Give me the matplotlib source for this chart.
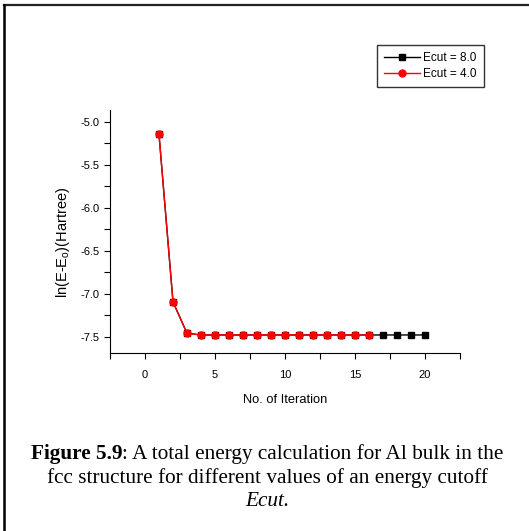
import matplotlib
matplotlib.use("Agg")
import matplotlib.pyplot as plt
from matplotlib.lines import Line2D
from matplotlib.ticker import MultipleLocator

iter_8 = list(range(1, 21))
energy_8 = [-5.144, -7.095, -7.46, -7.48, -7.48, -7.48, -7.48, -7.48, -7.48, -7.48,
            -7.48, -7.48, -7.48, -7.48, -7.48, -7.48, -7.48, -7.48, -7.48, -7.48]
iter_4 = list(range(1, 17))
energy_4 = [-5.144, -7.095, -7.46, -7.48, -7.48, -7.48, -7.48, -7.48, -7.48, -7.48,
            -7.48, -7.48, -7.48, -7.48, -7.48, -7.48]
x_ticks = [0, 5, 10, 15, 20]
y_ticks = [-5.0, -5.5, -6.0, -6.5, -7.0, -7.5]

plt.rcParams['font.family'] = ['Liberation Sans', 'DejaVu Sans']
plt.rcParams['mathtext.fontset'] = 'custom'
plt.rcParams['mathtext.rm'] = 'Liberation Sans'

W, H = 529, 531
fig = plt.figure(figsize=(W/100, H/100), dpi=100)
ax = fig.add_axes([110/W, 1-353/H, (460-110)/W, (353-110)/H])

ax.plot(iter_8, energy_8, color='black', marker='s', markersize=4.5, linewidth=1,
        label='Ecut = 8.0')
ax.plot(iter_4, energy_4, color='red', marker='o', markersize=5, linewidth=1,
        label='Ecut = 4.0')

ax.set_xlim(-2.5, 22.5)
ax.set_ylim(-7.69, -4.86)
ax.set_xticks(x_ticks)
ax.set_yticks(y_ticks)
ax.set_yticklabels([f"{v:.1f}" for v in y_ticks])
ax.xaxis.set_minor_locator(MultipleLocator(2.5))
ax.yaxis.set_minor_locator(MultipleLocator(0.25))
for s in ['top', 'right']:
    ax.spines[s].set_visible(False)
ax.tick_params(which='both', direction='out', length=4, width=0.8, labelsize=8)
ax.tick_params(axis='x', pad=8)

ax.set_xlabel('No. of Iteration', fontsize=9.3, labelpad=10)
ax.set_ylabel(r'ln(E-E$_{\rm o}$)(Hartree)', fontsize=10.5)
ax.yaxis.set_label_coords((72-110)/350, (353-242)/243)

leg = fig.legend(loc='upper left', bbox_to_anchor=(377/W, 1-45/H), fontsize=8.5,
                 frameon=True, fancybox=False, edgecolor='black', handlelength=3.0,
                 borderpad=0.6, labelspacing=0.35, handletextpad=0.3, borderaxespad=0)
leg.get_frame().set_linewidth(1.0)

fig.add_artist(Line2D([4/W, 1.0], [1-4.5/H, 1-4.5/H], color='#222222', linewidth=1.6,
                      transform=fig.transFigure))
fig.add_artist(Line2D([4/W, 4/W], [1-4.5/H, 0], color='black', linewidth=1.8,
                      transform=fig.transFigure))

cap_font = ['Liberation Serif', 'DejaVu Serif']
fs = 15.3
cx = 0.505
renderer = fig.canvas.get_renderer()
y1 = 1-453/H
t_bold = fig.text(0, y1, 'Figure 5.9', ha='left', va='baseline', fontsize=fs,
                  family=cap_font, weight='bold')
t_rest = fig.text(0, y1, ': A total energy calculation for Al bulk in the', ha='left',
                  va='baseline', fontsize=fs, family=cap_font)
wb = t_bold.get_window_extent(renderer).width / W
wr = t_rest.get_window_extent(renderer).width / W
x0 = cx - (wb + wr) / 2
t_bold.set_x(x0)
t_rest.set_x(x0 + wb)
y1c = 1-452/H
t_bold.set_y(y1c); t_rest.set_y(y1c)
t_bold.set_va('center_baseline'); t_rest.set_va('center_baseline')

fig.text(cx, 1-478/H, 'fcc structure for different values of an energy cutoff',
         ha='center', va='center', fontsize=fs, family=cap_font)
fig.text(cx, 1-502/H, 'Ecut.', ha='center', va='center', fontsize=fs,
         family=cap_font, style='italic')

fig.savefig('out.png', dpi=100)
